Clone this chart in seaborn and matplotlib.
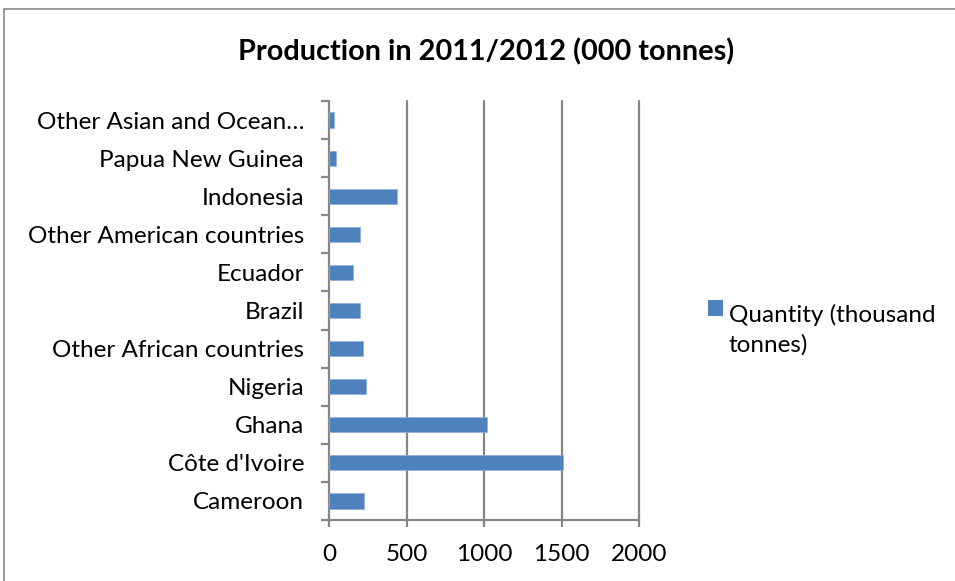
import matplotlib
matplotlib.use("Agg")
import matplotlib.pyplot as plt
from matplotlib.patches import Rectangle
from matplotlib.legend_handler import HandlerPatch
import seaborn as sns
import pandas as pd

countries = [
    "Other Asian and Ocean\u2026",
    "Papua New Guinea",
    "Indonesia",
    "Other American countries",
    "Ecuador",
    "Brazil",
    "Other African countries",
    "Nigeria",
    "Ghana",
    "C\u00f4te d'Ivoire",
    "Cameroon",
]
quantity = [35, 45, 440, 198, 158, 198, 218, 237, 1020, 1510, 225]
x_ticks = [0, 500, 1000, 1500, 2000]
series_label = "Quantity (thousand\ntonnes)"
title = "Production in 2011/2012 (000 tonnes)"

BAR = "#4F81BD"
GREY = "#868686"
FS = 17.5

sns.set_theme(style="white")
plt.rcParams["font.family"] = ["Lato", "DejaVu Sans"]
plt.rcParams["text.color"] = "black"

df = pd.DataFrame({"country": countries, "quantity": quantity})

W, H = 955, 581
fig = plt.figure(figsize=(W / 100, H / 100), dpi=100)
ax = fig.add_axes([329 / W, (H - 520) / H, 310 / W, 419 / H])

sns.barplot(data=df, y="country", x="quantity", orient="h", order=countries,
            color=BAR, saturation=1, width=0.4, ax=ax, label=series_label,
            edgecolor="#8AAEDC", linewidth=0.5, zorder=3)

ax.set_xlim(0, 2000)
ax.set_ylim(len(countries) - 0.5, -0.5)
ax.set_xticks(x_ticks)
ax.set_xticklabels([str(t) for t in x_ticks])
ax.set_xlabel("")
ax.set_ylabel("")

# vertical gridlines
for t in x_ticks[1:]:
    ax.axvline(t, color=GREY, lw=1.6, zorder=1, clip_on=False)

for s in ["top", "right"]:
    ax.spines[s].set_visible(False)
for s in ["left", "bottom"]:
    ax.spines[s].set_color(GREY)
    ax.spines[s].set_linewidth(1.6)

# category ticks sit on the boundaries between bars
ax.set_yticks([i - 0.5 for i in range(len(countries) + 1)], minor=True)
ax.tick_params(axis="y", which="major", length=0, pad=18, labelsize=FS,
               labelcolor="black")
ax.tick_params(axis="y", which="minor", left=True, length=6, width=1.6,
               color=GREY, direction="out")
ax.tick_params(axis="x", which="major", bottom=True, length=5, width=1.6,
               color=GREY, direction="out", pad=12, labelsize=FS,
               labelcolor="black")

fig.text(486 / W, 1 - 52 / H, title, ha="center", va="center",
         fontsize=20.8, fontweight="bold", color="black")


class FirstLineHandler(HandlerPatch):
    def __init__(self, shift, **kw):
        super().__init__(**kw)
        self.shift = shift

    def create_artists(self, legend, orig_handle, xdescent, ydescent,
                       width, height, fontsize, trans):
        p = Rectangle((-xdescent, -ydescent + self.shift * fontsize),
                      width, height, facecolor=BAR, edgecolor="none",
                      transform=trans)
        return [p]


handles, labels = ax.get_legend_handles_labels()
leg = ax.legend(handles[:1], labels[:1], loc="upper left",
                bbox_to_anchor=(708 / W, 1 - 304 / H),
                bbox_transform=fig.transFigure, frameon=False,
                fontsize=FS, handlelength=0.6, handleheight=0.6,
                handletextpad=0.25, borderpad=0, borderaxespad=0,
                handler_map={handles[0]: FirstLineHandler(0.89)})
for t in leg.get_texts():
    t.set_color("black")
    t.set_linespacing(1.45)

# outer chart border
fig.patches.append(Rectangle((4 / W, -0.1), 1.2, 1 - 9 / H + 0.1,
                             transform=fig.transFigure, fill=False,
                             edgecolor="#878787", lw=1.2))

fig.savefig("out.png", dpi=100)
